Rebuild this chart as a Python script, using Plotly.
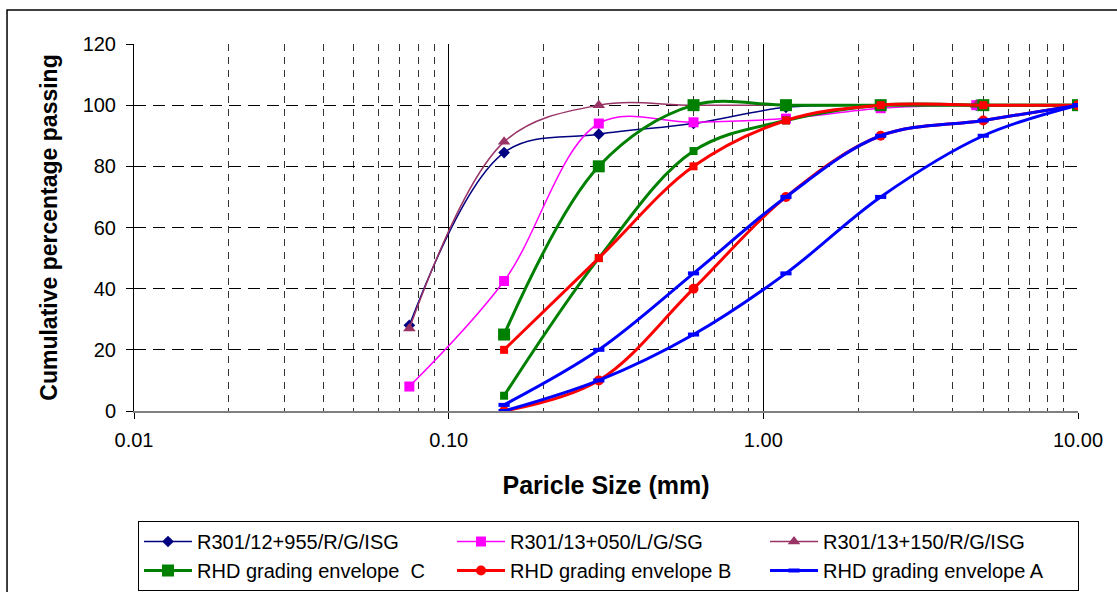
import plotly.graph_objects as go

# Sieve sizes (mm)
sieve_site = [0.075, 0.15, 0.3, 0.6, 1.18, 2.36, 4.75, 10]
sieve_env = [0.15, 0.3, 0.6, 1.18, 2.36, 5, 10]

# Site samples: cumulative percentage passing
r301_12_955 = [28, 84.5, 90.5, 94, 99.3, 100, 100, 100]
r301_13_050 = [8, 42.5, 94, 94.4, 95.6, 99, 100, 100]
r301_13_150 = [27, 88, 100, 100, 100, 100, 100, 100]

# RHD grading envelopes (upper / lower limits)
env_c_upper = [25, 80, 100, 100, 100, 100, 100]
env_c_lower = [5, 50, 85, 95, 100, 100, 100]
env_b_upper = [20, 50, 80, 95, 100, 100, 100]
env_b_lower = [0, 10, 40, 70, 90, 95, 100]
env_a_upper = [2, 20, 45, 70, 90, 95, 100]
env_a_lower = [0, 10, 25, 45, 70, 90, 100]

x_ticks = [0.01, 0.1, 1, 10]
y_ticks = [0, 20, 40, 60, 80, 100, 120]

FONT = "Liberation Sans, Arial, sans-serif"

fig = go.Figure()


def add(x, y, name, color, width, symbol, size, show=True, mline=0):
    fig.add_trace(go.Scatter(
        x=x, y=y, name=name, mode="lines+markers",
        line=dict(color=color, width=width, shape="spline", smoothing=1),
        marker=dict(symbol=symbol, size=size, color=color,
                    line=dict(color=color, width=mline)),
        showlegend=show,
    ))


add(sieve_site, r301_12_955, "R301/12+955/R/G/ISG", "#000080", 1.5, "diamond", 9)
add(sieve_site, r301_13_050, "R301/13+050/L/G/SG", "#FF00FF", 1.5, "square", 10)
add(sieve_site, r301_13_150, "R301/13+150/R/G/ISG", "#993366", 1.5, "triangle-up", 11)
add(sieve_env, env_c_upper, "RHD grading envelope  C", "#008000", 3, "square", 12)
add(sieve_env, env_c_lower, "RHD grading envelope  C", "#008000", 3, "square", 8, show=False)
add(sieve_env, env_b_upper, "RHD grading envelope B", "#FF0000", 3, "square", 8, show=False)
add(sieve_env, env_b_lower, "RHD grading envelope B", "#FF0000", 3, "circle", 10)
add(sieve_env, env_a_upper, "RHD grading envelope A", "#0000FF", 3, "line-ew", 8, mline=4)
add(sieve_env, env_a_lower, "RHD grading envelope A", "#0000FF", 3, "line-ew", 8, show=False, mline=4)

fig.update_layout(
    width=1117, height=592,
    margin=dict(l=134, r=39, t=44, b=181),
    paper_bgcolor="white", plot_bgcolor="white",
    font=dict(family=FONT, size=20, color="black"),
    xaxis=dict(
        type="log", range=[-2, 1],
        tickvals=x_ticks, tickformat=".2f",
        showline=True, linecolor="#808080", linewidth=2,
        ticks="outside", ticklen=6, tickcolor="black",
        ticklabelstandoff=4,
        showgrid=True, gridcolor="black", gridwidth=1,
        minor=dict(dtick="D1", showgrid=True, gridcolor="#333333",
                   griddash="7px,6px", gridwidth=1, ticks=""),
        zeroline=False,
        tickfont=dict(size=20),
        title=dict(text="<b>Paricle Size (mm)</b>", font=dict(size=25), standoff=26),
    ),
    yaxis=dict(
        range=[0, 120], tickvals=y_ticks,
        showline=True, linecolor="black", linewidth=1,
        ticks="outside", ticklen=7, tickcolor="black",
        ticklabelstandoff=6,
        showgrid=True, gridcolor="black", gridwidth=1.2, griddash="12px,7px",
        zeroline=False,
        tickfont=dict(size=20),
        title=dict(text="<b>Cumulative percentage passing</b>", font=dict(size=23), standoff=18),
    ),
    legend=dict(
        orientation="h", xref="container", yref="container",
        x=138 / 1117, y=1 - 521 / 592, xanchor="left", yanchor="top",
        bordercolor="black", borderwidth=1, bgcolor="white",
        itemwidth=48, entrywidth=250, entrywidthmode="pixels",
        font=dict(size=20), traceorder="normal",
    ),
    shapes=[dict(type="rect", xref="paper", yref="paper",
                 x0=-0.1345, x1=1.2, y0=-0.7, y1=1.0926,
                 line=dict(color="black", width=1.5), layer="below")],
)

fig.write_html("out.html")
